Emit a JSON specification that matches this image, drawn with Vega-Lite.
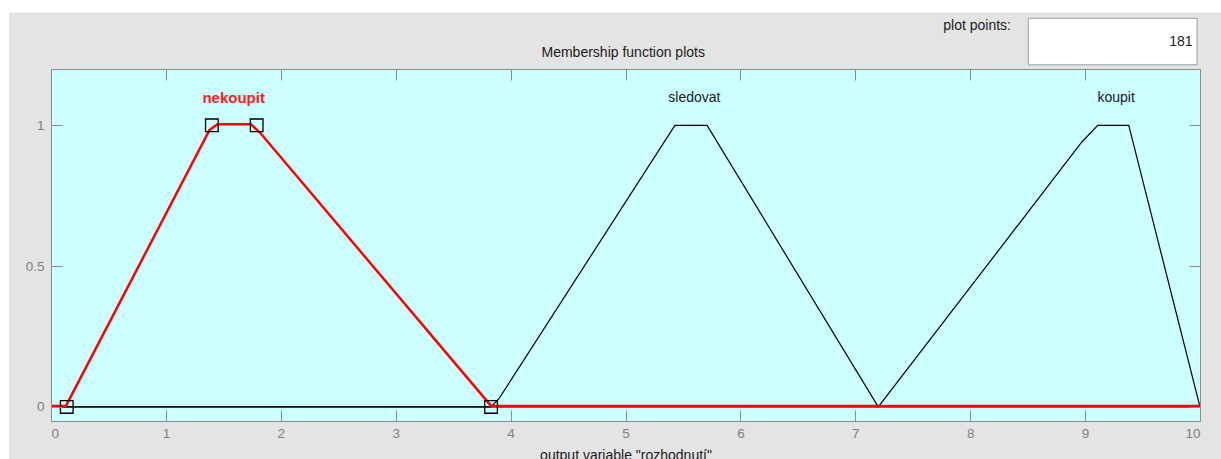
{
  "$schema": "https://vega.github.io/schema/vega-lite/v6.json",
  "width": 1149,
  "height": 352,
  "autosize": {"type": "none"},
  "padding": {"left": 51, "top": 69, "right": 21, "bottom": 38},
  "background": "#ffffff",
  "config": {
    "view": {"fill": null, "stroke": null},
    "axis": {"grid": false, "domainColor": "#8c8c8c", "tickColor": "#8c8c8c", "labelColor": "#808080", "labelFont": "Liberation Sans", "labelFontSize": 13.5, "titleFont": "Liberation Sans", "titleFontSize": 14, "titleFontWeight": "normal", "titleColor": "#1a1a1a", "tickSize": -11, "tickWidth": 1, "domainWidth": 1}
  },
  "resolve": {"axis": {"x": "independent", "y": "independent"}},
  "datasets": {
    "mf": [
      {"mf": "sledovat", "x": 0, "y": 0},
      {"mf": "sledovat", "x": 3.83, "y": 0},
      {"mf": "sledovat", "x": 3.9, "y": 0.03},
      {"mf": "sledovat", "x": 5.43, "y": 1},
      {"mf": "sledovat", "x": 5.71, "y": 1},
      {"mf": "sledovat", "x": 7.2, "y": 0},
      {"mf": "sledovat", "x": 10, "y": 0},
      {"mf": "koupit", "x": 0, "y": 0},
      {"mf": "koupit", "x": 7.2, "y": 0},
      {"mf": "koupit", "x": 8.97, "y": 0.94},
      {"mf": "koupit", "x": 9.11, "y": 1},
      {"mf": "koupit", "x": 9.38, "y": 1},
      {"mf": "koupit", "x": 10, "y": 0},
      {"mf": "nekoupit", "x": 0, "y": 0},
      {"mf": "nekoupit", "x": 0.13, "y": 0},
      {"mf": "nekoupit", "x": 1.38, "y": 0.98},
      {"mf": "nekoupit", "x": 1.45, "y": 1},
      {"mf": "nekoupit", "x": 1.74, "y": 1},
      {"mf": "nekoupit", "x": 1.82, "y": 0.97},
      {"mf": "nekoupit", "x": 3.83, "y": 0},
      {"mf": "nekoupit", "x": 10, "y": 0}
    ],
    "params": [
      {"x": 0.137, "y": 0},
      {"x": 1.4, "y": 1},
      {"x": 1.79, "y": 1},
      {"x": 3.83, "y": 0}
    ],
    "labels": [
      {"mf": "nekoupit", "x": 1.59, "y": 1.096},
      {"mf": "sledovat", "x": 5.6, "y": 1.096},
      {"mf": "koupit", "x": 9.27, "y": 1.096}
    ]
  },
  "layer": [
    {
      "data": {"values": [{}]},
      "mark": {"type": "rect", "fill": "#e4e4e4", "strokeWidth": 0},
      "encoding": {
        "x": {"datum": -0.366, "type": "quantitative", "axis": null},
        "x2": {"datum": 10.3},
        "y": {"datum": 1.4007, "type": "quantitative", "axis": null},
        "y2": {"datum": -0.3}
      }
    },
    {
      "data": {"values": [{}]},
      "mark": {"type": "rect", "fill": "#ccffff", "strokeWidth": 0},
      "encoding": {
        "x": {"datum": 0, "type": "quantitative", "axis": null},
        "x2": {"datum": 10},
        "y": {"datum": 1.2, "type": "quantitative", "axis": null},
        "y2": {"datum": -0.05}
      }
    },
    {
      "data": {"name": "mf"},
      "transform": [{"filter": "datum.mf != 'nekoupit'"}],
      "mark": {"type": "line", "color": "#000000", "strokeWidth": 1.2},
      "encoding": {
        "x": {"field": "x", "type": "quantitative", "scale": {"domain": [0, 10], "nice": false, "zero": false},
              "axis": {"zindex": 1, "orient": "bottom", "values": [0,1,2,3,4,5,6,7,8,9,10], "format": "d", "labelPadding": 16, "title": "output variable \"rozhodnutí\"", "titlePadding": 9}},
        "y": {"field": "y", "type": "quantitative", "scale": {"domain": [-0.05, 1.2], "nice": false, "zero": false},
              "axis": {"zindex": 1, "orient": "left", "values": [0, 0.5, 1], "format": "~g", "labelPadding": 18, "title": null}},
        "detail": {"field": "mf"}
      }
    },
    {
      "data": {"name": "mf"},
      "transform": [{"filter": "datum.mf == 'nekoupit'"}],
      "mark": {"type": "line", "color": "#ff0000", "strokeWidth": 2.5, "yOffset": -1},
      "encoding": {
        "x": {"field": "x", "type": "quantitative", "axis": null},
        "y": {"field": "y", "type": "quantitative", "axis": null}
      }
    },
    {
      "data": {"name": "params"},
      "mark": {"type": "point", "shape": "square", "filled": false, "color": "#000000", "size": 160, "strokeWidth": 1.3, "opacity": 1},
      "encoding": {
        "x": {"field": "x", "type": "quantitative", "axis": {"zindex": 1, "orient": "top", "values": [0,1,2,3,4,5,6,7,8,9,10], "labels": false, "title": null, "domain": true}},
        "y": {"field": "y", "type": "quantitative", "axis": {"zindex": 1, "orient": "right", "values": [0, 0.5, 1], "labels": false, "title": null, "domain": true}}
      }
    },
    {
      "data": {"name": "labels"},
      "transform": [{"filter": "datum.mf == 'nekoupit'"}],
      "mark": {"type": "text", "color": "#ff1a1a", "font": "Liberation Sans", "fontSize": 15, "fontWeight": "bold", "align": "center", "baseline": "middle"},
      "encoding": {
        "x": {"field": "x", "type": "quantitative", "axis": null},
        "y": {"field": "y", "type": "quantitative", "axis": null},
        "text": {"field": "mf"}
      }
    },
    {
      "data": {"name": "labels"},
      "transform": [{"filter": "datum.mf != 'nekoupit'"}],
      "mark": {"type": "text", "color": "#1a1a1a", "font": "Liberation Sans", "fontSize": 14, "align": "center", "baseline": "middle"},
      "encoding": {
        "x": {"field": "x", "type": "quantitative", "axis": null},
        "y": {"field": "y", "type": "quantitative", "axis": null},
        "text": {"field": "mf"}
      }
    },
    {
      "data": {"values": [{"t": "Membership function plots"}]},
      "mark": {"type": "text", "color": "#1a1a1a", "font": "Liberation Sans", "fontSize": 14, "align": "center", "baseline": "middle"},
      "encoding": {
        "x": {"datum": 4.98, "type": "quantitative", "axis": null},
        "y": {"datum": 1.256, "type": "quantitative", "axis": null},
        "text": {"field": "t"}
      }
    },
    {
      "data": {"values": [{}]},
      "mark": {"type": "rect", "fill": "#ffffff", "stroke": "#a0a0a0", "strokeWidth": 1},
      "encoding": {
        "x": {"datum": 8.506, "type": "quantitative", "axis": null},
        "x2": {"datum": 9.975},
        "y": {"datum": 1.38, "type": "quantitative", "axis": null},
        "y2": {"datum": 1.215}
      }
    },
    {
      "data": {"values": [{"t": "plot points:"}]},
      "mark": {"type": "text", "color": "#1a1a1a", "font": "Liberation Sans", "fontSize": 14, "align": "right", "baseline": "middle"},
      "encoding": {
        "x": {"datum": 8.355, "type": "quantitative", "axis": null},
        "y": {"datum": 1.351, "type": "quantitative", "axis": null},
        "text": {"field": "t"}
      }
    },
    {
      "data": {"values": [{"t": "181"}]},
      "mark": {"type": "text", "color": "#1a1a1a", "font": "Liberation Sans", "fontSize": 14, "align": "right", "baseline": "middle"},
      "encoding": {
        "x": {"datum": 9.935, "type": "quantitative", "axis": null},
        "y": {"datum": 1.295, "type": "quantitative", "axis": null},
        "text": {"field": "t"}
      }
    }
  ]
}
